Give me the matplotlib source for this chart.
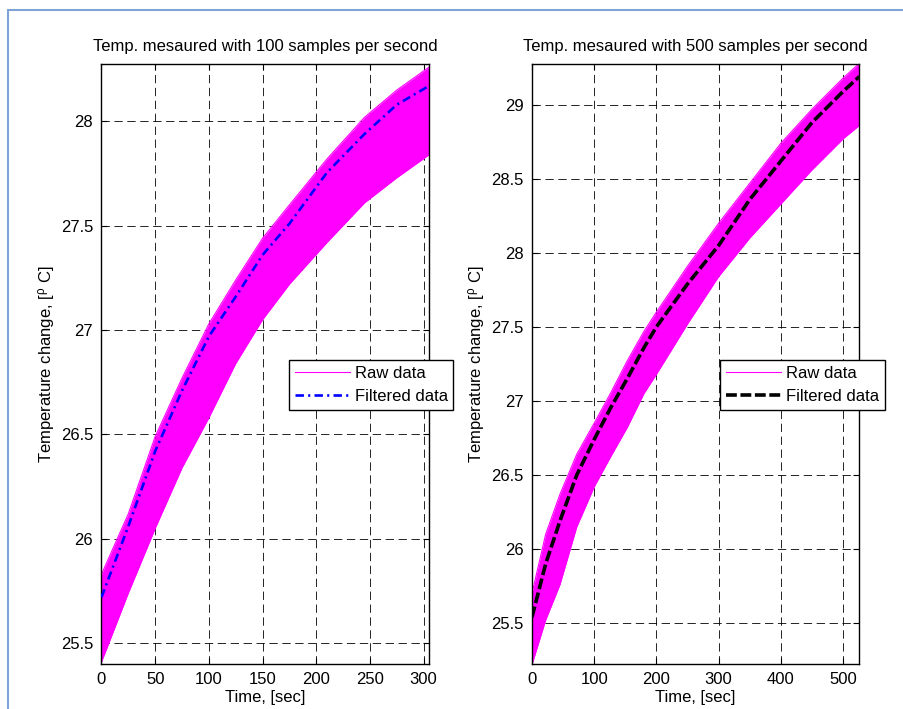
import numpy as np
import matplotlib
matplotlib.use("Agg")
import matplotlib.pyplot as plt
from matplotlib.patches import Rectangle
from matplotlib.ticker import FuncFormatter

plt.rcParams["font.family"] = ["Liberation Sans", "DejaVu Sans"]
plt.rcParams["mathtext.fontset"] = "custom"
plt.rcParams["mathtext.rm"] = "Liberation Sans"
plt.rcParams["mathtext.it"] = "Liberation Sans:italic"

# 100 samples per second
time_100 = [0, 25, 50, 75, 100, 125, 150, 175, 210, 245, 275, 305]
filtered_100 = [25.72, 26.06, 26.42, 26.71, 26.97, 27.16, 27.36, 27.51, 27.755, 27.94, 28.08, 28.17]
raw_upper_100 = [25.83, 26.12, 26.49, 26.77, 27.03, 27.24, 27.44, 27.60, 27.82, 28.02, 28.15, 28.26]
raw_lower_100 = [25.41, 25.74, 26.05, 26.34, 26.58, 26.84, 27.05, 27.22, 27.42, 27.61, 27.73, 27.84]

# 500 samples per second
time_500 = [0, 22, 45, 72, 100, 126, 153, 180, 200, 250, 300, 350, 400, 450, 500, 526]
filtered_500 = [25.54, 25.90, 26.19, 26.50, 26.74, 26.95, 27.15, 27.36, 27.50, 27.79, 28.05, 28.36, 28.62, 28.88, 29.09, 29.19]
raw_upper_500 = [25.70, 26.10, 26.37, 26.64, 26.85, 27.05, 27.27, 27.47, 27.60, 27.91, 28.20, 28.47, 28.74, 28.97, 29.18, 29.28]
raw_lower_500 = [25.22, 25.52, 25.76, 26.15, 26.42, 26.62, 26.82, 27.05, 27.18, 27.52, 27.84, 28.10, 28.33, 28.56, 28.77, 28.86]

panels = [
    {
        "title": "Temp. mesaured with 100 samples per second",
        "t": time_100, "filt": filtered_100,
        "up": raw_upper_100, "low": raw_lower_100,
        "xlim": (0, 305), "ylim": (25.4, 28.275),
        "xticks": np.arange(0, 301, 50), "yticks": np.arange(25.5, 28.01, 0.5),
        "filt_color": "#0000ff", "filt_ls": (0, (3.2, 1.6, 0.8, 1.6)), "filt_lw": 1.9,
        "pos": [101.5 / 904, 1 - 664 / 709, 327.5 / 904, 600 / 709],
        "leg_x": 0.5716,
    },
    {
        "title": "Temp. mesaured with 500 samples per second",
        "t": time_500, "filt": filtered_500,
        "up": raw_upper_500, "low": raw_lower_500,
        "xlim": (0, 526), "ylim": (25.223, 29.275),
        "xticks": np.arange(0, 501, 100), "yticks": np.arange(25.5, 29.01, 0.5),
        "filt_color": "black", "filt_ls": (0, (3, 1)), "filt_lw": 2.6,
        "pos": [532 / 904, 1 - 664 / 709, 327.3 / 904, 600 / 709],
        "leg_x": 0.5744,
    },
]

fig = plt.figure(figsize=(9.04, 7.09), dpi=100)
fig.patch.set_facecolor("white")

# light blue frame around the figure
fig.patches.append(Rectangle((8 / 904, -0.05), 1.2, 1 - 10 / 709 + 0.05,
                             transform=fig.transFigure, fill=False,
                             edgecolor="#7ea3d6", linewidth=1.5))

fmt = FuncFormatter(lambda v, p: f"{v:g}")

for p in panels:
    ax = fig.add_axes(p["pos"])

    ax.fill_between(p["t"], p["low"], p["up"], color="#ff00ff", linewidth=0, zorder=2)
    ax.plot(p["t"], p["up"], color="#ff00ff", linewidth=0.8, label="Raw data", zorder=2)
    ax.plot(p["t"], p["low"], color="#ff00ff", linewidth=0.8, zorder=2)
    ax.plot(p["t"], p["filt"], color=p["filt_color"], linestyle=p["filt_ls"],
            linewidth=p["filt_lw"], label="Filtered data", zorder=3)

    ax.set_xlim(*p["xlim"])
    ax.set_ylim(*p["ylim"])
    ax.set_xticks(p["xticks"])
    ax.set_yticks(p["yticks"])
    ax.xaxis.set_major_formatter(fmt)
    ax.yaxis.set_major_formatter(fmt)

    ax.grid(True, color="black", linestyle=(0, (10, 5.5)), linewidth=0.6)
    ax.set_axisbelow(True)
    ax.tick_params(direction="in", top=True, right=True, length=4,
                   width=0.8, labelsize=12, pad=6)
    for s in ax.spines.values():
        s.set_linewidth(1.0)

    ax.set_title(p["title"], fontsize=12, pad=9)
    ax.set_xlabel("Time, [sec]", fontsize=12, labelpad=2)
    ax.set_ylabel(r"Temperature change, [$^{\mathrm{\rho}}$ C]", fontsize=12, labelpad=3)

    leg = ax.legend(loc="upper left", bbox_to_anchor=(p["leg_x"], 0.5067),
                    borderaxespad=0, fontsize=12, fancybox=False, framealpha=1,
                    edgecolor="black", handlelength=3.3, handletextpad=0.3,
                    labelspacing=0.5, borderpad=0.35)
    leg.get_frame().set_linewidth(1.0)
    leg.set_zorder(5)

fig.savefig("out.png", dpi=100)
